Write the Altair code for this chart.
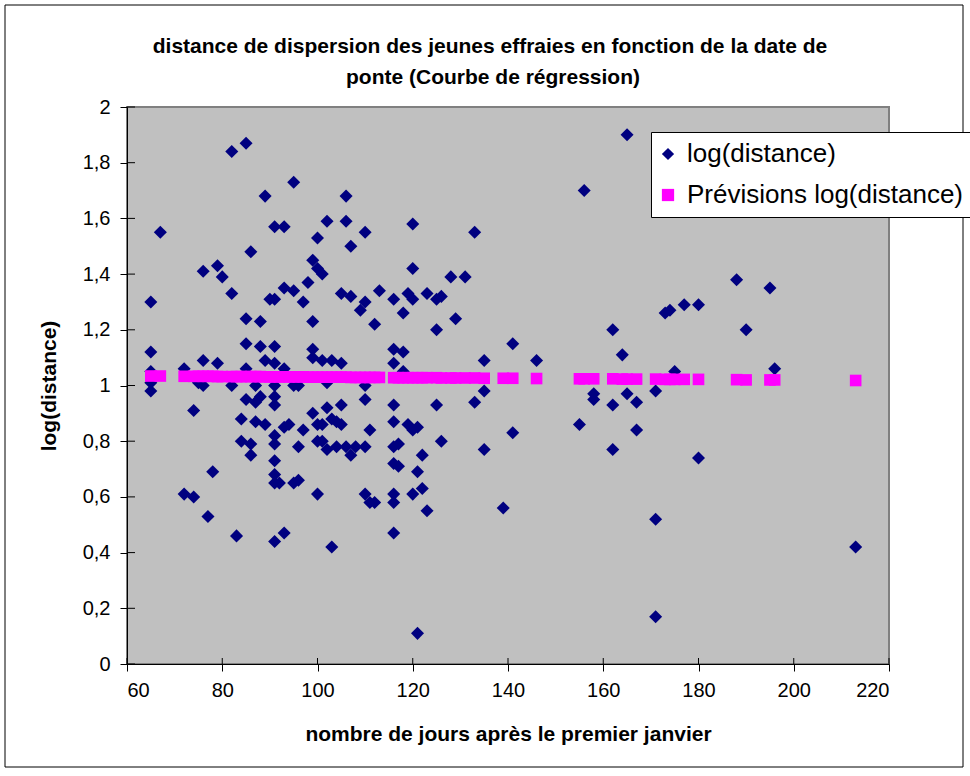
import altair as alt
import pandas as pd

# ---- data ----
obs_jour = [65, 65, 65, 65, 65, 67, 72, 72, 74, 74, 75, 76, 76, 76, 77, 78, 79, 79, 80,
            82, 82, 82, 83, 84, 84, 85, 85, 85, 85, 85, 86, 86, 86, 87, 87, 87, 88, 88, 88,
            89, 89, 89, 90,
            91, 91, 91, 91, 91, 91, 91, 91, 91, 91, 91, 91, 91,
            92, 93, 93, 93, 93, 93, 94, 95, 95, 95, 95, 96, 96, 96, 97, 97, 98,
            99, 99, 99, 99, 99, 100, 100, 100, 100, 100, 101, 101, 101, 101,
            102, 102, 102, 102, 103, 103, 103, 104, 104, 105, 105, 105, 105,
            106, 106, 106, 107, 107, 107, 108, 109, 110, 110, 110, 110, 110, 110,
            111, 111, 112, 112, 113,
            116, 116, 116, 116, 116, 116, 116, 116, 116, 116, 117, 117, 118, 118, 118,
            119, 119, 120, 120, 120, 120, 120, 121, 121, 121, 122, 122, 123, 123,
            125, 125, 125, 126, 126, 128, 129, 131, 133, 133, 135, 135, 135, 139, 141, 141,
            146, 155, 156, 158, 158, 162, 162, 162, 164, 165, 165, 167, 167,
            171, 171, 171, 173, 174, 175, 177, 180, 180, 188, 190, 195, 196, 213]
obs_log = [1.30, 1.12, 1.05, 1.01, 0.98, 1.55, 1.06, 0.61, 0.91, 0.60, 1.01, 1.41, 1.09, 1.00,
           0.53, 0.69, 1.43, 1.08, 1.39,
           1.84, 1.33, 1.00, 0.46, 0.88, 0.80, 1.87, 1.24, 1.15, 1.06, 0.95, 1.48, 0.79, 0.75,
           1.00, 0.94, 0.87, 1.23, 1.14, 0.96,
           1.68, 1.09, 0.86, 1.31,
           1.57, 1.31, 1.14, 1.08, 1.00, 0.96, 0.93, 0.82, 0.79, 0.73, 0.68, 0.65, 0.44,
           0.65, 1.57, 1.35, 1.06, 0.85, 0.47, 0.86, 1.73, 1.34, 1.00, 0.65, 1.00, 0.78, 0.66,
           1.30, 0.84, 1.37,
           1.45, 1.23, 1.13, 1.10, 0.90, 1.53, 1.42, 0.86, 0.80, 0.61, 1.40, 1.09, 0.86, 0.80,
           1.59, 1.01, 0.92, 0.77, 1.09, 0.88, 0.42, 0.87, 0.78, 1.33, 1.08, 0.93, 0.86,
           1.68, 1.59, 0.78, 1.50, 1.32, 0.75, 0.78, 1.27, 1.55, 1.30, 1.00, 0.95, 0.78, 0.61,
           0.84, 0.58, 1.22, 0.58, 1.34,
           1.31, 1.13, 1.08, 0.93, 0.87, 0.78, 0.72, 0.61, 0.58, 0.47, 0.79, 0.71, 1.26, 1.12, 1.05,
           1.33, 0.86, 1.58, 1.42, 1.31, 0.84, 0.61, 0.85, 0.69, 0.11, 0.75, 0.63, 1.33, 0.55,
           1.31, 1.20, 0.93, 1.32, 0.80, 1.39, 1.24, 1.39, 1.55, 0.94, 1.09, 0.98, 0.77, 0.56, 1.15, 0.83,
           1.09, 0.86, 1.70, 0.97, 0.95, 1.20, 0.93, 0.77, 1.11, 1.90, 0.97, 0.94, 0.84,
           0.98, 0.52, 0.17, 1.26, 1.27, 1.05, 1.29, 1.29, 0.74, 1.38, 1.20, 1.35, 1.06, 0.42]

prev_jour = [65, 67, 72, 74, 75, 76, 77, 78, 79, 80, 82, 83, 84, 85, 86, 87, 88, 89, 90,
             91, 92, 93, 94, 95, 96, 97, 98, 99, 100, 101, 102, 103, 104, 105, 106, 107,
             108, 109, 110, 111, 112, 113, 116, 117, 118, 119, 120, 121, 122, 123, 125,
             126, 128, 129, 131, 133, 135, 139, 141, 146, 155, 156, 158, 162, 164, 165,
             167, 171, 173, 174, 175, 177, 180, 188, 190, 195, 196, 213]
prev_log = [1.034, 1.034, 1.033, 1.033, 1.033, 1.033, 1.033, 1.033, 1.032, 1.032, 1.032,
            1.032, 1.032, 1.032, 1.032, 1.032, 1.032, 1.031, 1.031, 1.031, 1.031, 1.031,
            1.031, 1.031, 1.031, 1.031, 1.030, 1.030, 1.030, 1.030, 1.030, 1.030, 1.030,
            1.030, 1.030, 1.029, 1.029, 1.029, 1.029, 1.029, 1.029, 1.029, 1.028, 1.028,
            1.028, 1.028, 1.028, 1.028, 1.028, 1.028, 1.028, 1.027, 1.027, 1.027, 1.027,
            1.027, 1.026, 1.026, 1.026, 1.025, 1.024, 1.024, 1.024, 1.024, 1.023, 1.023,
            1.023, 1.023, 1.022, 1.022, 1.022, 1.022, 1.022, 1.021, 1.020, 1.020, 1.020, 1.018]

series = ["log(distance)", "Prévisions log(distance)"]
title_lines = ["distance de dispersion des jeunes effraies en fonction de la date de",
               "ponte (Courbe de régression)"]
y_ticks = [0, 0.2, 0.4, 0.6, 0.8, 1, 1.2, 1.4, 1.6, 1.8, 2]
x_ticks = [60, 80, 100, 120, 140, 160, 180, 200, 220]

FONT = "Liberation Sans"
W, H = 762, 557

obs = pd.DataFrame({"jour": obs_jour, "val": obs_log, "serie": series[0], "ordre": 0})
prev = pd.DataFrame({"jour": prev_jour, "val": prev_log, "serie": series[1], "ordre": 1})
df = pd.concat([obs, prev], ignore_index=True)

xscale = alt.Scale(domain=[60, 220], nice=False, zero=False)
yscale = alt.Scale(domain=[0, 2], nice=False, zero=False)

points = alt.Chart(df).mark_point(filled=True, opacity=1).encode(
    x=alt.X("jour:Q", scale=xscale,
            axis=alt.Axis(values=x_ticks, title="nombre de jours après le premier janvier",
                          labelPadding=9, titlePadding=23)),
    y=alt.Y("val:Q", scale=yscale,
            axis=alt.Axis(values=y_ticks, title="log(distance)",
                          labelExpr="replace(format(datum.value, '~g'), '.', ',')",
                          labelPadding=10, titlePadding=23)),
    color=alt.Color("serie:N", scale=alt.Scale(domain=series, range=["#000080", "#FF00FF"]),
                    legend=alt.Legend(title=None)),
    shape=alt.Shape("serie:N", scale=alt.Scale(domain=series, range=["diamond", "square"]),
                    legend=alt.Legend(title=None)),
    size=alt.Size("ordre:O", scale=alt.Scale(domain=[0, 1], range=[170, 135]), legend=None),
    order=alt.Order("ordre:Q"),
)

# inner half of the cross tick marks
yin = alt.Chart(pd.DataFrame({"val": y_ticks})).mark_rule(color="black", strokeWidth=1).encode(
    y=alt.Y("val:Q", scale=yscale), x=alt.value(0), x2=alt.value(8))
xin = alt.Chart(pd.DataFrame({"jour": x_ticks})).mark_rule(color="black", strokeWidth=1).encode(
    x=alt.X("jour:Q", scale=xscale), y=alt.value(H - 6), y2=alt.value(H))

one = pd.DataFrame({"a": [0]})
# outer chart-area frame
frame = alt.Chart(one).mark_rect(
    fillOpacity=0, stroke="black", strokeWidth=1).encode(
    x=alt.value(-122), x2=alt.value(836), y=alt.value(-102), y2=alt.value(660))

# chart title (two centred lines)
title1 = alt.Chart(one).mark_text(
    font=FONT, fontSize=21, fontWeight="bold", color="black", align="center", baseline="middle"
).encode(x=alt.value(363), y=alt.value(-60), text=alt.value(title_lines[0]))
title2 = alt.Chart(one).mark_text(
    font=FONT, fontSize=21, fontWeight="bold", color="black", align="center", baseline="middle"
).encode(x=alt.value(366), y=alt.value(-29), text=alt.value(title_lines[1]))

chart = alt.layer(frame, title1, title2, points, yin, xin).properties(
    width=W, height=H,
    autosize=alt.AutoSizeParams(type="none"),
    padding={"left": 127, "top": 107, "right": 81, "bottom": 104},
).configure(
    background="white",
).configure_view(
    fill="#C0C0C0", stroke="#808080", strokeWidth=2,
).configure_axis(
    grid=False, domainColor="black", domainWidth=1, tickColor="black", tickSize=7,
    labelFont=FONT, labelFontSize=20, labelColor="black",
    titleFont=FONT, titleFontSize=21, titleFontWeight="bold", titleColor="black",
).configure_legend(
    orient="none", legendX=524, legendY=25, fillColor="white", strokeColor="black",
    padding=9, rowPadding=15, labelFont=FONT, labelFontSize=26, labelColor="black",
    symbolSize=150, labelOffset=6, symbolOffset=-5, symbolStrokeWidth=0, labelLimit=600,
)

chart.save("out.html", embed_options={"renderer": "svg", "actions": False})
